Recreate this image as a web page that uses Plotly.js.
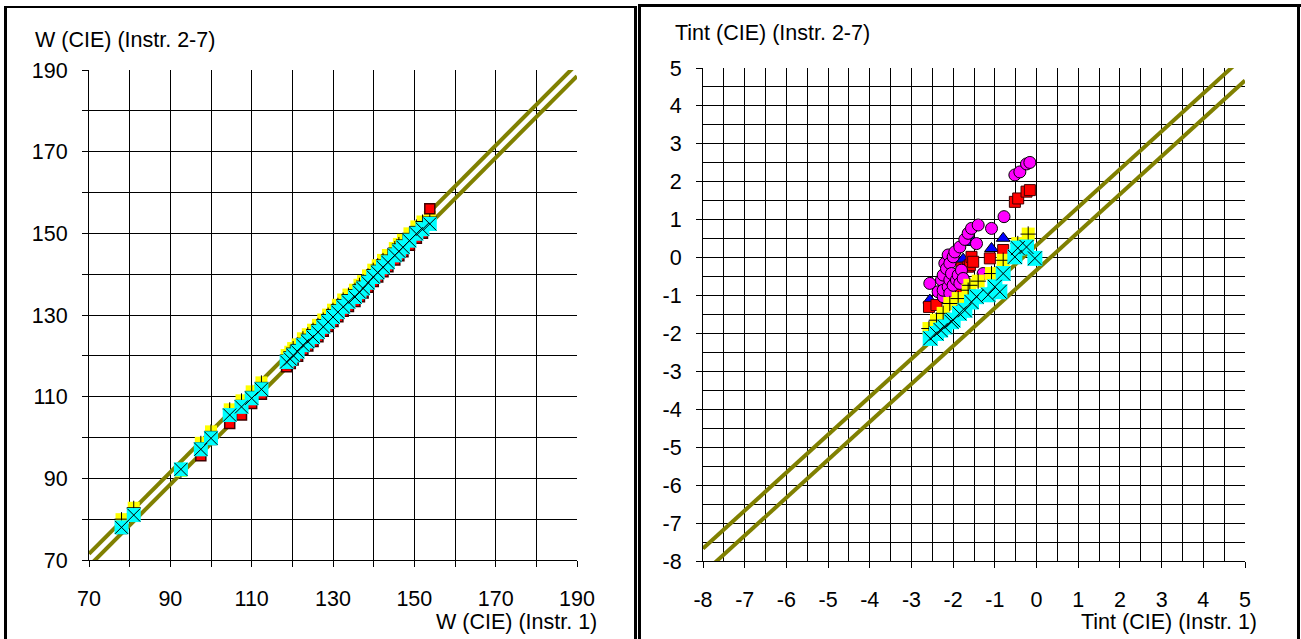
<!DOCTYPE html>
<html><head><meta charset="utf-8">
<script src="https://cdn.plot.ly/plotly-3.0.1.min.js"></script>
<style>
html,body{margin:0;padding:0;background:#fff;width:1301px;height:639px;overflow:hidden;}
#left{position:absolute;left:0;top:0;width:638px;height:639px;}
#right{position:absolute;left:640px;top:0;width:661px;height:639px;}
.b{position:absolute;background:#000;z-index:10;}
</style></head><body>
<div id="left"></div><div id="right"></div>
<div class="b" style="left:4px;top:6px;width:3px;height:633px"></div>
<div class="b" style="left:4px;top:6px;width:633px;height:2px"></div>
<div class="b" style="left:634px;top:6px;width:3px;height:633px"></div>
<div class="b" style="left:638px;top:4px;width:3px;height:635px"></div>
<div class="b" style="left:638px;top:4px;width:663px;height:3px"></div>
<div class="b" style="left:1297px;top:4px;width:3px;height:635px"></div>
<script>
// ---------- LEFT CHART: W (CIE) ----------
const W_instr1 = [78.0, 81.0, 92.6, 97.5, 100.0, 104.6, 107.5, 110.0, 112.4, 118.6, 119.5, 120.2, 121.3, 122.6, 123.8, 125.1, 126.3, 127.6, 128.8, 130.0, 131.2, 132.5, 133.8, 135.4, 136.5, 137.4, 138.6, 139.9, 141.0, 142.3, 143.5, 145.2, 146.2, 147.2, 148.8, 150.5, 152.0, 153.8];
const W_yellow = [80.0, 82.8, 91.8, 98.7, 101.5, 106.9, 109.1, 111.3, 113.5, 120.2, 121.0, 121.9, 122.8, 124.3, 125.3, 126.4, 127.6, 128.9, 130.1, 131.3, 132.5, 133.8, 135.0, 136.2, 137.4, 138.3, 139.7, 141.1, 142.2, 143.5, 144.7, 146.4, 147.4, 148.4, 150.0, 151.7, 152.9, 154.0];
const W_red    = [77.7, 80.7, 92.0, 95.5, 99.5, 103.4, 105.5, 108.3, 110.6, 117.3, 118.1, 119.0, 119.9, 121.5, 122.4, 123.5, 124.7, 126.0, 127.2, 128.4, 129.6, 130.9, 132.1, 133.3, 134.5, 135.4, 136.8, 138.2, 139.3, 140.6, 141.8, 143.5, 144.5, 145.5, 147.1, 148.8, 150.0, 156.0];
const W_cyan   = [78.0, 81.0, 92.2, 97.1, 99.8, 105.5, 107.5, 109.6, 111.8, 118.5, 119.2, 120.1, 121.0, 122.6, 123.5, 124.6, 125.8, 127.1, 128.3, 129.5, 130.7, 132.0, 133.2, 134.4, 135.6, 136.5, 137.9, 139.3, 140.4, 141.7, 142.9, 144.6, 145.6, 146.6, 148.2, 149.9, 151.0, 152.3];
const W_bandX = [70, 190];
const W_bandUpper = [71.5, 191.5];
const W_bandLower = [68.5, 188.5];
const W_ticks = [70, 90, 110, 130, 150, 170, 190];

// ---------- RIGHT CHART: Tint (CIE) ----------
const T_yellowX = [-2.58, -2.40, -2.24, -2.08, -1.88, -1.64, -1.60, -1.40, -1.08, -0.80, -0.45, -0.20];
const T_yellowY = [-1.87, -1.65, -1.47, -1.21, -1.08, -0.86, -0.73, -0.62, -0.42, -0.07, 0.37, 0.62];
const T_redX = [-2.58, -2.40, -1.96, -1.88, -1.84, -1.80, -1.64, -1.60, -1.56, -1.52, -1.12, -0.80, -0.52, -0.44, -0.24, -0.16];
const T_redY = [-1.30, -1.25, -1.17, -1.08, -0.94, -0.28, -0.24, -0.20, 0.02, -0.11, -0.02, 0.20, 1.47, 1.56, 1.74, 1.78];
const T_blueX = [-2.56, -1.76, -1.52, -1.08, -0.80];
const T_blueY = [-1.12, -0.04, 0.40, 0.24, 0.51];
const T_magentaX = [-2.56, -2.36, -2.28, -2.24, -2.24, -2.24, -2.20, -2.16, -2.12, -2.12, -2.08, -2.08, -2.08, -2.04, -2.00, -2.00, -1.96, -1.92, -1.88, -1.84, -1.84, -1.80, -1.76, -1.72, -1.64, -1.56, -1.44, -1.40, -1.28, -1.08, -0.78, -0.52, -0.40, -0.24, -0.16];
const T_magentaY = [-0.68, -0.90, -0.59, -1.03, -0.86, -0.46, -0.15, -0.29, -0.77, 0.07, -0.59, -0.94, -0.15, -0.42, 0.02, -0.73, 0.15, -0.59, -0.46, 0.28, -0.68, -0.33, -0.55, 0.48, 0.64, 0.77, 0.37, 0.86, -0.42, 0.77, 1.08, 2.18, 2.26, 2.47, 2.51];
const T_cyanX = [-2.55, -2.40, -2.30, -2.20, -2.04, -2.00, -1.85, -1.72, -1.56, -1.44, -1.16, -1.00, -0.88, -0.80, -0.52, -0.45, -0.24, -0.04];
const T_cyanY = [-2.13, -2.00, -1.91, -1.83, -1.69, -1.65, -1.47, -1.39, -1.17, -1.03, -0.98, -0.77, -0.90, -0.42, 0.02, 0.25, 0.28, -0.02];
const T_bandX = [-8, 5];
const T_bandUpper = [-7.67, 5.33];
const T_bandLower = [-8.33, 4.67];
const T_ticks = [-8, -7, -6, -5, -4, -3, -2, -1, 0, 1, 2, 3, 4, 5];

const FONT = 'Liberation Sans, Arial, sans-serif';
const FS = 21.5;
const OLIVE = '#808000';

function band(x, y) {
  return {x: x, y: y, mode: 'lines', line: {color: OLIVE, width: 4}, hoverinfo: 'skip', showlegend: false};
}
function pts(x, y, symbol, color, size, lineColor, lineWidth) {
  return {x: x, y: y, mode: 'markers', showlegend: false, hoverinfo: 'skip',
    marker: {symbol: symbol, color: color, size: size, line: {color: lineColor || color, width: lineWidth || 0}}};
}
function axis(range, ticks, minorStep, minorTicks, standoff) {
  return {range: range, tickmode: 'array', tickvals: ticks, ticktext: ticks.map(String),
    showgrid: true, gridcolor: '#000', gridwidth: 1, zeroline: false,
    showline: true, linecolor: '#000', linewidth: 1,
    ticks: 'outside', ticklen: 6, tickcolor: '#000', tickwidth: 1,
    ticklabelstandoff: standoff,
    tickfont: {family: FONT, size: FS, color: '#000'},
    minor: {dtick: minorStep, tick0: range[0], showgrid: true, gridcolor: '#000', gridwidth: 1,
      ticks: minorTicks ? 'outside' : '', ticklen: 6, tickcolor: '#000'},
    fixedrange: true};
}

// Left
const L = {l: 89, r: 61, t: 70, b: 79};
const LW = 638 - L.l - L.r, LH = 639 - L.t - L.b;
const leftTraces = [
  band(W_bandX, W_bandUpper), band(W_bandX, W_bandLower),
  pts(W_instr1, W_yellow, 'square', '#FFFF00', 12),
  pts(W_instr1, W_yellow, 'cross-thin-open', '#000', 10, '#000', 1),
  pts(W_instr1, W_red, 'square', '#FF0000', 10, '#400000', 1.5),
  pts(W_instr1, W_cyan, 'square', '#00FFFF', 14),
  pts(W_instr1, W_cyan, 'x-thin-open', '#000', 13, '#000', 1)
];
const leftLayout = {
  width: 638, height: 639, margin: L, paper_bgcolor: 'rgba(0,0,0,0)', plot_bgcolor: '#fff',
  hovermode: false, showlegend: false,
  xaxis: axis([70, 190], W_ticks, 10, true, 13),
  yaxis: axis([70, 190], W_ticks, 10, true, 10),
  annotations: [
    {text: 'W (CIE) (Instr. 2-7)', xref: 'paper', yref: 'paper', x: (33 - L.l) / LW, y: (639 - L.b - 40) / LH,
      xanchor: 'left', yanchor: 'middle', showarrow: false, font: {family: FONT, size: FS, color: '#000'}},
    {text: 'W (CIE) (Instr. 1)', xref: 'paper', yref: 'paper', x: (599 - L.l) / LW, y: (639 - L.b - 622) / LH,
      xanchor: 'right', yanchor: 'middle', showarrow: false, font: {family: FONT, size: FS, color: '#000'}}
  ]
};
Plotly.newPlot('left', leftTraces, leftLayout, {staticPlot: true, displayModeBar: false});

// Right
const R = {l: 63, r: 56, t: 68, b: 78};
const RW = 661 - R.l - R.r, RH = 639 - R.t - R.b;
const rightTraces = [
  band(T_bandX, T_bandUpper), band(T_bandX, T_bandLower),
  pts(T_blueX, T_blueY, 'triangle-up', '#0000FF', 12, '#000', 1),
  pts(T_redX, T_redY, 'square', '#FF0000', 11, '#400000', 1),
  pts(T_magentaX, T_magentaY, 'circle', '#FF00FF', 12, '#000', 1),
  pts(T_yellowX, T_yellowY, 'square', '#FFFF00', 13),
  pts(T_yellowX, T_yellowY, 'cross-thin-open', '#000', 11, '#000', 1),
  pts(T_cyanX, T_cyanY, 'square', '#00FFFF', 15),
  pts(T_cyanX, T_cyanY, 'x-thin-open', '#000', 14, '#000', 1)
];
const rightLayout = {
  width: 661, height: 639, margin: R, paper_bgcolor: 'rgba(0,0,0,0)', plot_bgcolor: '#fff',
  hovermode: false, showlegend: false,
  xaxis: axis([-8, 5], T_ticks, 0.5, false, 13),
  yaxis: axis([-8, 5], T_ticks, 0.5, false, 10),
  annotations: [
    {text: 'Tint (CIE) (Instr. 2-7)', xref: 'paper', yref: 'paper', x: (673 - 640 - R.l) / RW, y: (639 - R.b - 33) / RH,
      xanchor: 'left', yanchor: 'middle', showarrow: false, font: {family: FONT, size: FS, color: '#000'}},
    {text: 'Tint (CIE) (Instr. 1)', xref: 'paper', yref: 'paper', x: (1259 - 640 - R.l) / RW, y: (639 - R.b - 622) / RH,
      xanchor: 'right', yanchor: 'middle', showarrow: false, font: {family: FONT, size: FS, color: '#000'}}
  ]
};
Plotly.newPlot('right', rightTraces, rightLayout, {staticPlot: true, displayModeBar: false});
</script>
</body></html>
